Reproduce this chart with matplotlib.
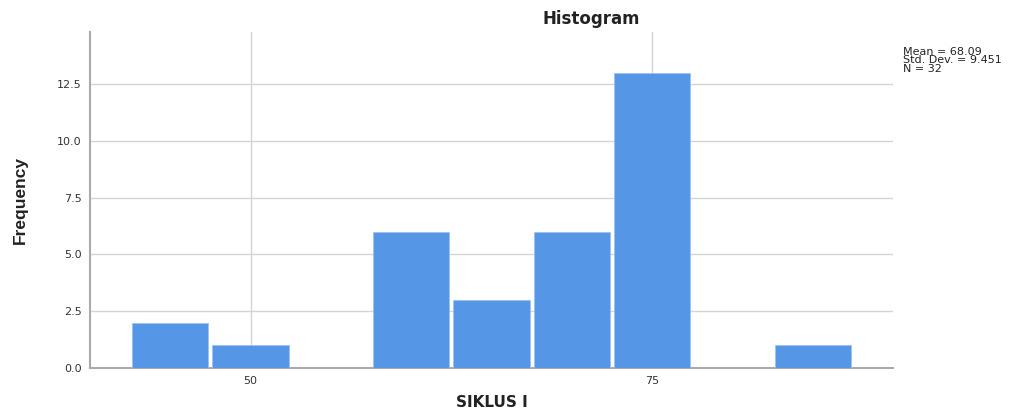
import matplotlib
matplotlib.use("Agg")
import matplotlib.pyplot as plt
from matplotlib import font_manager

bin_centers = [45, 50, 55, 60, 65, 70, 75, 80, 85]
counts = [2, 1, 0, 6, 3, 6, 13, 0, 1]
bin_width = 5
x_ticks = [50, 75]
y_ticks = [0.0, 2.5, 5.0, 7.5, 10.0, 12.5]
stats_lines = ["Mean = 68.09", "Std. Dev. = 9.451", "N = 32"]

plt.rcParams['font.family'] = ['DejaVu Sans']

names = {f.name for f in font_manager.fontManager.ttflist}
narrow = 'Liberation Sans Narrow' if 'Liberation Sans Narrow' in names else 'Liberation Sans'

fig = plt.figure(figsize=(10.2, 4.08), dpi=100)
ax = fig.add_axes([90/1020, 40/408, (893-90)/1020, (368-32)/408])

ax.bar(bin_centers, counts, width=bin_width * 0.95, color='#5596E6',
       edgecolor='#9cc2f0', linewidth=0.6, zorder=3)

ax.set_xlim(40, 90)
ax.set_ylim(0, 14.8)
ax.set_xticks(x_ticks)
ax.set_xticklabels([str(t) for t in x_ticks], fontsize=8, color='#333333')
ax.set_yticks(y_ticks)
ax.set_yticklabels([f"{t:.1f}" for t in y_ticks], fontsize=8, color='#333333')
ax.tick_params(axis='both', length=0, pad=6)

ax.grid(True, color='#d4d4d4', linewidth=1.0, zorder=0)
for s in ['top', 'right']:
    ax.spines[s].set_visible(False)
for s in ['left', 'bottom']:
    ax.spines[s].set_color('#aaaaaa')
    ax.spines[s].set_linewidth(1.5)

ax.set_xlabel("SIKLUS I", fontsize=11, fontweight='bold', color='#222222',
              labelpad=6)
ax.set_ylabel("Frequency", fontsize=12.5, fontweight='bold', color='#222222',
              labelpad=21, family=narrow)

fig.text(591/1020, 1 - 19/408, "Histogram", fontsize=12, fontweight='bold',
         ha='center', va='center', color='#222222')
fig.text(903/1020, 1 - 47/408, "\n".join(stats_lines), fontsize=8,
         ha='left', va='top', color='#222222', linespacing=0.8)

fig.savefig("out.png", dpi=100, facecolor='white')
